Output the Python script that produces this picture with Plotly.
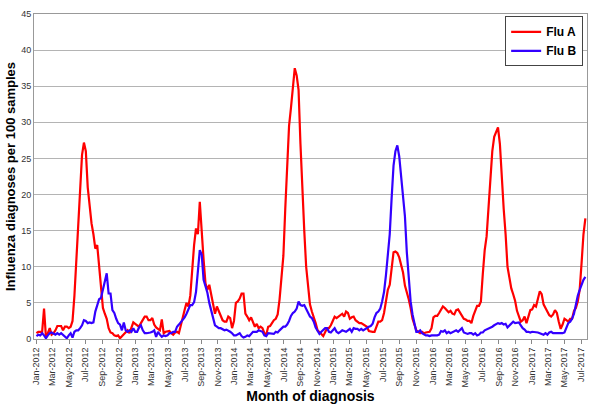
import plotly.graph_objects as go
import pandas as pd

# weekly values, week of 2 Jan 2012 to week of 17 Jul 2017
flu_a = [
    0.8, 1.0, 1.0, 1.0, 4.2, 0.3, 0.8, 1.5, 0.6, 0.8,
    1.2, 1.8, 1.8, 1.8, 1.2, 1.7, 1.7, 1.5, 1.7, 2.5,
    6.0, 10.5, 16.0, 21.0, 25.5, 27.2, 26.0, 21.0, 18.0, 16.0,
    14.5, 12.5, 13.0, 10.0, 6.5, 4.3, 3.5, 2.8, 1.5, 0.9,
    0.8, 0.5, 0.4, 0.5, 0.1, 0.4, 0.6, 0.9, 1.2, 0.8,
    1.5, 2.3, 2.1, 1.9, 1.7, 2.2, 2.6, 3.1, 3.1, 2.6,
    2.6, 2.9, 2.0, 1.6, 1.4, 1.2, 2.7, 0.8, 1.0, 1.0,
    1.1, 0.8, 0.6, 0.9, 1.0, 0.8, 2.0, 3.0, 4.0, 5.0,
    4.5, 6.0, 10.0, 13.0, 15.3, 14.5, 19.0, 14.6, 11.0, 7.7,
    6.8, 7.5, 6.0, 4.7, 3.5, 4.5, 3.8, 3.1, 2.6, 2.4,
    2.4, 3.1, 2.9, 1.5, 2.5, 5.0, 5.2, 5.6, 6.3, 6.3,
    3.5, 3.1, 2.6, 3.0, 2.2, 1.7, 2.1, 1.5, 1.7, 1.5,
    0.8, 0.6, 1.7, 1.8, 2.2, 2.6, 2.8, 3.4, 5.5, 8.5,
    11.5, 18.0, 24.0, 29.5, 32.0, 35.0, 37.5, 36.5, 34.5, 27.0,
    20.0, 15.0, 10.0, 6.8, 4.8, 3.8, 3.1, 2.2, 1.2, 1.0,
    0.7, 0.4, 1.0, 1.5, 1.5, 1.9, 2.5, 3.1, 2.9, 3.1,
    3.3, 3.5, 3.1, 3.8, 3.6, 2.8, 3.0, 3.1, 2.6, 2.4,
    2.2, 2.2, 2.0, 1.9, 1.7, 1.1, 1.0, 1.0, 1.0, 1.7,
    2.4, 2.4, 2.6, 3.6, 5.5, 6.8, 7.5, 9.5, 12.0, 12.1,
    11.9, 11.3, 10.2, 9.2, 7.4, 6.5, 5.5, 4.3, 2.8, 2.0,
    1.2, 1.0, 0.8, 1.0, 0.8, 0.9, 1.0, 1.0, 1.5, 3.0,
    3.2, 3.2, 3.6, 4.0, 4.5, 4.3, 4.0, 3.7, 3.9, 3.5,
    3.4, 4.0, 4.1, 3.7, 3.3, 2.8, 2.7, 2.5, 2.5, 2.2,
    3.2, 4.0, 4.6, 4.6, 5.2, 9.0, 12.3, 14.2, 18.5, 22.0,
    26.0, 28.0, 28.7, 29.3, 27.0, 21.6, 18.0, 14.5, 10.0, 8.5,
    7.0, 6.2, 5.3, 3.9, 3.2, 2.4, 2.6, 3.1, 2.2, 3.2,
    4.0, 4.1, 4.7, 4.5, 5.8, 6.6, 6.2, 4.8, 4.3, 3.8,
    3.3, 3.1, 3.4, 4.0, 3.6, 2.4, 1.4, 2.0, 2.8, 2.6,
    2.4, 2.8, 2.8, 3.9, 4.3, 5.2, 6.8, 10.5, 14.5, 16.7,
]

flu_b = [
    0.4, 0.6, 0.5, 0.8, 0.5, 0.1, 0.5, 0.8, 0.9, 0.8,
    0.6, 0.8, 0.6, 0.8, 0.6, 0.3, 0.1, 0.5, 0.8, 0.2,
    1.0, 1.2, 1.2, 1.5, 1.9, 2.6, 2.5, 2.2, 2.3, 2.2,
    2.3, 3.8, 4.8, 5.5, 5.7, 6.8, 7.7, 9.1, 6.3, 6.3,
    4.0, 3.6, 2.8, 2.2, 2.0, 1.2, 2.3, 1.2, 1.0, 1.2,
    1.0, 1.5, 1.0, 1.0, 1.6, 1.9, 1.2, 0.8, 0.8, 0.8,
    0.9, 1.0, 1.2, 0.3, 1.0, 0.6, 0.3, 0.5, 0.4, 0.5,
    0.8, 0.8, 1.0, 1.0, 1.7, 2.0, 2.3, 2.6, 3.0, 3.5,
    4.1, 4.7, 4.7, 5.1, 6.5, 10.0, 12.3, 11.7, 8.2, 7.3,
    6.4, 5.0, 4.0, 3.2, 1.9, 1.7, 1.5, 1.5, 1.3, 1.2,
    1.3, 1.2, 1.0, 0.8, 0.5, 0.5, 0.6, 0.8, 0.4, 0.2,
    0.3, 0.5, 0.4, 0.7, 1.0, 1.0, 1.0, 1.2, 1.1, 1.0,
    0.5, 0.4, 0.8, 0.8, 0.8, 0.7, 1.0, 0.9, 1.2, 1.5,
    1.7, 1.7, 2.0, 2.5, 3.2, 3.6, 3.8, 4.2, 5.2, 4.7,
    4.6, 4.7, 4.2, 3.8, 3.1, 2.9, 2.4, 1.6, 1.1, 0.7,
    1.0, 1.2, 1.5, 1.5, 1.0, 0.9, 1.2, 1.5, 1.0, 0.8,
    1.0, 1.2, 1.1, 1.0, 1.2, 1.4, 1.0, 1.5, 1.4, 1.4,
    1.2, 1.4, 1.2, 1.4, 1.5, 1.7, 1.8, 2.1, 3.0, 3.6,
    3.8, 4.2, 5.2, 6.5, 8.8, 12.0, 14.5, 19.5, 24.0, 26.0,
    26.8, 25.3, 22.5, 19.5, 17.0, 12.0, 8.3, 5.2, 3.4, 2.0,
    1.0, 1.0, 1.2, 0.8, 0.6, 0.5, 0.5, 0.4, 0.5, 0.5,
    0.4, 0.5, 0.6, 1.1, 1.0, 1.2, 0.8, 1.0, 0.8, 0.9,
    1.0, 1.2, 1.0, 1.2, 1.5, 0.9, 0.8, 0.7, 0.8, 0.8,
    0.6, 0.8, 0.5, 0.6, 0.9, 0.9, 1.2, 1.3, 1.5, 1.6,
    1.7, 1.9, 2.0, 2.2, 2.1, 2.2, 2.0, 2.1, 1.6, 1.9,
    2.2, 2.4, 2.2, 2.2, 2.3, 1.9, 1.5, 1.3, 1.0, 1.0,
    0.9, 1.0, 1.0, 1.0, 0.9, 0.8, 0.7, 0.6, 0.8, 0.6,
    0.9, 1.0, 0.8, 0.8, 0.7, 0.8, 0.7, 0.8, 0.9, 1.5,
    2.2, 2.4, 2.8, 3.5, 5.0, 6.0, 6.8, 7.5, 8.2, 8.6,
]

weeks = pd.date_range("2012-01-02", periods=len(flu_a), freq="7D")
# x labels every second month
tick_months = pd.date_range("2012-01-01", "2017-07-01", freq="2MS")
tick_labels = [d.strftime("%b-%Y") for d in tick_months]

fig = go.Figure()
fig.add_trace(go.Scatter(x=weeks, y=flu_a, mode="lines", name="<b>Flu A</b>",
                         line=dict(color="#ff0000", width=2.2)))
fig.add_trace(go.Scatter(x=weeks, y=flu_b, mode="lines", name="<b>Flu B</b>",
                         line=dict(color="#3300ff", width=2.2)))

fig.update_layout(
    width=595, height=411,
    margin=dict(l=34, r=8, t=14, b=72, autoexpand=False),
    paper_bgcolor="white", plot_bgcolor="white",
    font=dict(family="Liberation Sans, Arial, sans-serif", color="#222222"),
    showlegend=True,
    legend=dict(x=0.852, y=0.993, xanchor="left", yanchor="top",
                bordercolor="#444444", borderwidth=1, bgcolor="white",
                font=dict(size=12, color="black", family="Liberation Sans, Arial"),
                itemwidth=30),
    xaxis=dict(
        range=["2011-12-24", "2017-07-23"], automargin=False,
        tickvals=tick_months, ticktext=tick_labels, tickangle=-90,
        tickfont=dict(size=9, color="#333333"),
        ticks="outside", ticklen=4, tickcolor="#888888",
        showgrid=False, showline=True, linecolor="#999999", mirror=True,
        title=dict(text="<b>Month of diagnosis</b>", font=dict(size=14, color="black"),
                   standoff=2),
    ),
    yaxis=dict(
        range=[0, 45], dtick=5, automargin=False,
        tickfont=dict(size=9, color="#333333"),
        showgrid=True, gridcolor="#b4b4b4", gridwidth=1,
        showline=True, linecolor="#999999", mirror=True,
        zeroline=False, ticks="",
        title=dict(text="<b>Influenza diagnoses per 100 samples</b>",
                   font=dict(size=13, color="black"), standoff=2),
    ),
)

# drop the page's default body margin so the figure sits at the window corner
fig.write_html("out.html", config={"displayModeBar": False},
               post_script="document.body.style.margin='0';")
